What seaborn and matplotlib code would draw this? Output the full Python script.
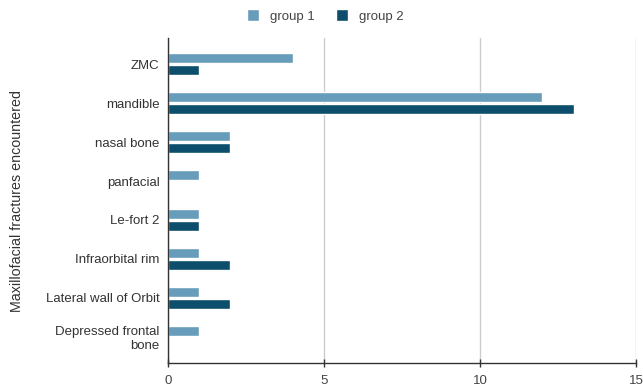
import matplotlib
matplotlib.use("Agg")
import matplotlib.pyplot as plt
import seaborn as sns
import pandas as pd

categories = ["ZMC", "mandible", "nasal bone", "panfacial", "Le-fort 2",
              "Infraorbital rim", "Lateral wall of Orbit", "Depressed frontal\nbone"]
group1 = [4, 12, 2, 1, 1, 1, 1, 1]
group2 = [1, 13, 2, 0, 1, 2, 2, 0]
series_names = ["group 1", "group 2"]
x_ticks = [0, 5, 10, 15]

df = pd.DataFrame({
    "category": categories * 2,
    "value": group1 + group2,
    "series": [series_names[0]] * len(categories) + [series_names[1]] * len(categories),
})

sns.set_theme(style="white")
plt.rcParams["font.family"] = ["Liberation Sans", "DejaVu Sans"]

fig = plt.figure(figsize=(6.43, 3.90), dpi=100)
ax = fig.add_axes([168 / 643, 27 / 390, 468 / 643, 325 / 390])

palette = {"group 1": "#679cba", "group 2": "#0c4e6b"}
sns.barplot(data=df, y="category", x="value", hue="series", orient="h",
            palette=palette, width=0.64, gap=0.23, ax=ax, legend=True,
            saturation=1)

ax.set_xlim(0, 15)
ax.set_xticks(x_ticks)
ax.set_xticklabels([str(t) for t in x_ticks])
ax.set_ylim(len(categories) - 1 + 0.667, -0.667)
ax.grid(axis="x", color="#cccccc", linewidth=1)
ax.set_axisbelow(True)

for side in ["top", "right"]:
    ax.spines[side].set_visible(False)
for side in ["left", "bottom"]:
    ax.spines[side].set_color("#333333")
    ax.spines[side].set_linewidth(1)

ax.tick_params(axis="x", length=6, width=1, color="#333333", labelsize=9.5,
               labelcolor="#444444", direction="inout", pad=6, bottom=True)
ax.tick_params(axis="y", length=0, labelsize=9.5, labelcolor="#333333", pad=6)
for lbl in ax.get_yticklabels():
    lbl.set_horizontalalignment("right")
    lbl.set_multialignment("right")

ax.set_xlabel("")
ax.set_ylabel("Maxillofacial fractures encountered", fontsize=10.3, color="#333333")
ax.yaxis.set_label_coords(-144 / 468, 0.5)

handles, labels = ax.get_legend_handles_labels()
ax.legend_.remove()
fig.legend(handles, labels, loc="center", bbox_to_anchor=(325 / 643, 1 - 16 / 390), ncol=2,
           frameon=False, handlelength=0.95, handleheight=0.95, handletextpad=0.8,
           columnspacing=1.6, fontsize=9.5, labelcolor="#444444")

fig.savefig("out.png", dpi=100)
